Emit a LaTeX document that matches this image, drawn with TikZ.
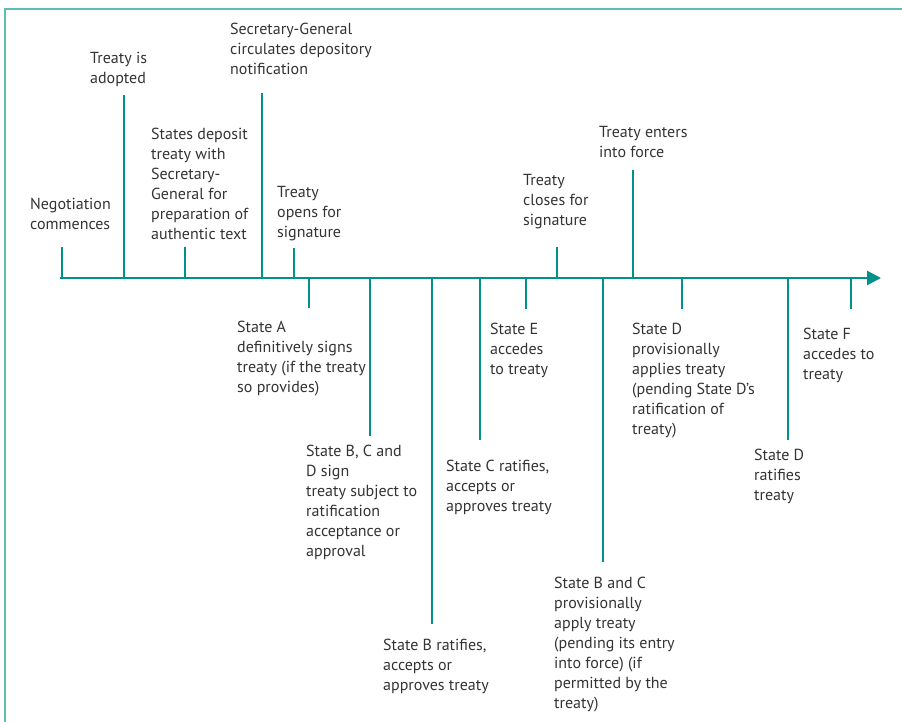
\documentclass[tikz,border=0pt]{standalone}
\usepackage{fontspec}
\setmainfont{PT Sans}
\usetikzlibrary{arrows.meta}
\definecolor{teal1}{HTML}{00918D}
\definecolor{frame1}{HTML}{5CBDB6}
\definecolor{ink}{HTML}{333333}
\newcommand{\fs}{\rule{0pt}{13pt}}
\tikzset{
  lbl/.style={anchor=north west, inner sep=0pt, align=left, text=ink,
    font=\fontsize{16}{20}\selectfont},
  tick/.style={draw=teal1, line width=2.2pt},
  axisline/.style={draw=teal1, line width=2.4pt, -{Triangle[length=14pt,width=14pt]}},
  framel/.style={draw=frame1, line width=2pt}
}
\begin{document}
\begin{tikzpicture}[x=1pt,y=-1pt]
\useasboundingbox (0,0) rectangle (902,722);
% frame
\draw[framel] (5,722) -- (5,9) -- (902,9);
% axis
\coordinate (a0) at (60,278);
\coordinate (a1) at (881,278);
\draw[axisline] (a0) -- (a1);
% ticks above
\foreach \n/\x/\t in {neg/62/247, ado/124/95, dep/185/247, sec/262/93, ope/294/248, clo/557/247, ent/633/170}{
  \coordinate (\n b) at (\x,278);
  \coordinate (\n t) at (\x,\t);
  \draw[tick] (\n b) -- (\n t);
}
% ticks below
\foreach \n/\x/\t in {sa/309/308, sbcd/370/436, sbr/432/624, scr/480/440, se/526/309, sbc/603/562, sdp/682/309, sdr/788/440, sf/851/309}{
  \coordinate (\n b) at (\x,278);
  \coordinate (\n t) at (\x,\t);
  \draw[tick] (\n b) -- (\n t);
}
% labels above
\node[lbl] (Lneg) at (30,196) {\fs Negotiation\\commences};
\node[lbl] (Lado) at (90,50) {\fs Treaty is\\adopted};
\node[lbl] (Ldep) at (151,126) {\fs States deposit\\treaty with\\Secretary-\\General for\\preparation of\\authentic text};
\node[lbl] (Lsec) at (230,21.5) {\fs Secretary-General\\circulates depository\\notification};
\node[lbl] (Lope) at (277,184) {\fs Treaty\\opens for\\signature};
\node[lbl] (Lclo) at (523,172) {\fs Treaty\\closes for\\signature};
\node[lbl] (Lent) at (599,124) {\fs Treaty enters\\into force};
% labels below
\node[lbl] (Lsa) at (237,319) {\fs State A\\definitively signs\\treaty (if the treaty\\so provides)};
\node[lbl] (Lsbcd) at (306,443) {\fs State B, C and\\D sign\\treaty subject to\\ratification\\acceptance or\\approval};
\node[lbl] (Lsbr) at (383,637) {\fs State B ratifies,\\accepts or\\approves treaty};
\node[lbl] (Lscr) at (446,458) {\fs State C ratifies,\\accepts or\\approves treaty};
\node[lbl] (Lse) at (490,321) {\fs State E\\accedes\\to treaty};
\node[lbl] (Lsbc) at (554,575) {\fs State B and C\\provisionally\\apply treaty\\(pending its entry\\into force) (if\\permitted by the\\treaty)};
\node[lbl] (Lsdp) at (632,321) {\fs State D\\provisionally\\applies treaty\\(pending State D’s\\ratification of\\treaty)};
\node[lbl] (Lsdr) at (754,447) {\fs State D\\ratifies\\treaty};
\node[lbl] (Lsf) at (803,326) {\fs State F\\accedes to\\treaty};
\end{tikzpicture}
\end{document}
